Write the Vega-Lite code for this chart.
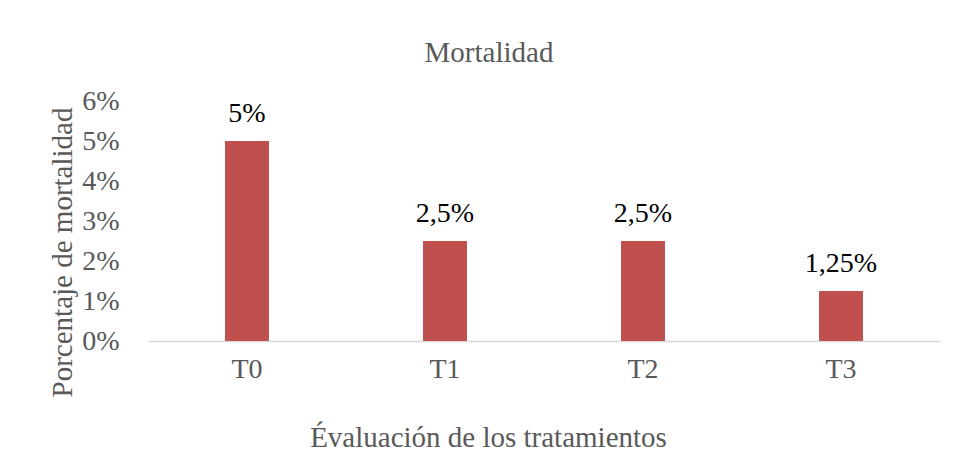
{
  "$schema": "https://vega.github.io/schema/vega-lite/v6.json",
  "width": 792,
  "height": 240,
  "autosize": {"type": "none"},
  "padding": {"left": 148, "top": 101, "right": 17, "bottom": 116},
  "background": "white",
  "title": {
    "text": "Mortalidad",
    "anchor": "middle",
    "frame": "bounds",
    "offset": 19,
    "dx": -5
  },
  "data": {
    "values": [
      {"trat": "T0", "mort": 0.05, "label": "5%"},
      {"trat": "T1", "mort": 0.025, "label": "2,5%"},
      {"trat": "T2", "mort": 0.025, "label": "2,5%"},
      {"trat": "T3", "mort": 0.0125, "label": "1,25%"}
    ]
  },
  "encoding": {
    "x": {
      "field": "trat",
      "type": "nominal",
      "sort": null,
      "scale": {"paddingInner": 0.778, "paddingOuter": 0.389},
      "axis": {
        "title": "Évaluación de los tratamientos",
        "titleX": 340,
        "titleY": 96,
        "titleBaseline": "middle",
        "titleAlign": "center",
        "labelAngle": 0,
        "labelPadding": 14,
        "ticks": false,
        "domainColor": "#D9D9D9",
        "domainWidth": 1.5,
        "grid": false
      }
    },
    "y": {
      "field": "mort",
      "type": "quantitative",
      "scale": {"domain": [0, 0.06]},
      "axis": {
        "title": "Porcentaje de mortalidad",
        "titleX": -86,
        "titleY": 151,
        "titleAngle": -90,
        "titleBaseline": "middle",
        "titleAlign": "center",
        "format": ".0%",
        "values": [0, 0.01, 0.02, 0.03, 0.04, 0.05, 0.06],
        "labelPadding": 29,
        "ticks": false,
        "domain": false,
        "grid": false
      }
    }
  },
  "layer": [
    {"mark": {"type": "bar", "color": "#C0504D"}},
    {
      "mark": {
        "type": "text",
        "font": "Times New Roman, Liberation Serif, serif",
        "fontSize": 28,
        "color": "#000000",
        "baseline": "alphabetic",
        "dy": -19
      },
      "encoding": {"text": {"field": "label"}}
    }
  ],
  "config": {
    "font": "Times New Roman, Liberation Serif, serif",
    "view": {"stroke": null},
    "title": {"font": "Times New Roman, Liberation Serif, serif", "fontSize": 29, "fontWeight": "normal", "color": "#595959"},
    "axis": {
      "labelFont": "Times New Roman, Liberation Serif, serif",
      "labelFontSize": 28,
      "labelColor": "#595959",
      "titleFont": "Times New Roman, Liberation Serif, serif",
      "titleFontSize": 29,
      "titleFontWeight": "normal",
      "titleColor": "#595959"
    }
  }
}
